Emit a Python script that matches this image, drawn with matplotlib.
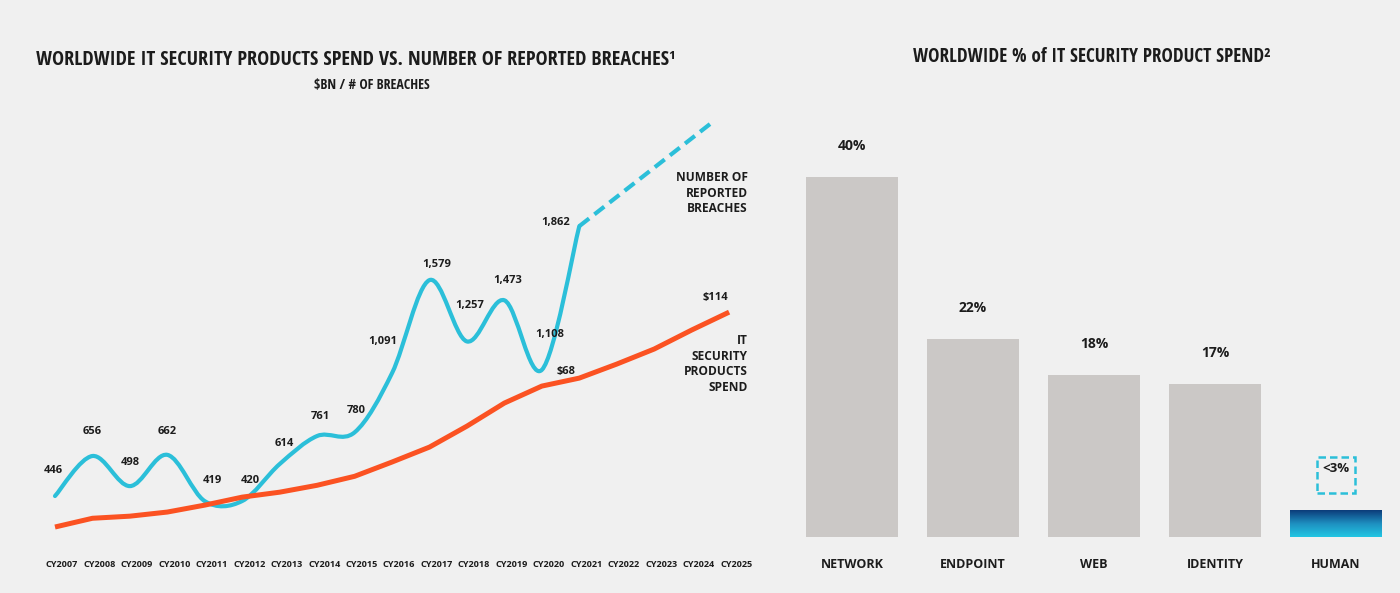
import numpy as np
import matplotlib
matplotlib.use('Agg')
import matplotlib.pyplot as plt
from matplotlib.path import Path
from matplotlib.patches import PathPatch, Rectangle
from matplotlib.colors import LinearSegmentedColormap
from matplotlib.ticker import NullLocator
from matplotlib.transforms import ScaledTranslation

# ---- data ----
years = ['CY2007', 'CY2008', 'CY2009', 'CY2010', 'CY2011', 'CY2012', 'CY2013',
         'CY2014', 'CY2015', 'CY2016', 'CY2017', 'CY2018', 'CY2019', 'CY2020',
         'CY2021', 'CY2022', 'CY2023', 'CY2024', 'CY2025']
breaches = [446, 656, 498, 662, 419, 420, 614, 761, 780, 1091, 1579, 1257, 1473, 1108, 1862]
proj_pos = [14, 17.57]           # projection (dashed) from CY2021 onwards
proj_breaches = [1862, 2410]
spend = [25.4, 27.0, 27.4, 28.2, 29.6, 31.3, 32.4, 34.0, 36.2, 40.0,
         44.4, 51.4, 60.4, 68, 71.9, 79.3, 88.1, 100.6, 114]   # $BN
spend_labelled = {13: '$68', 18: '$114'}

categories = ['NETWORK', 'ENDPOINT', 'WEB', 'IDENTITY', 'HUMAN']
share = [40, 22, 18, 17, 3]
share_labels = ['40%', '22%', '18%', '17%', '<3%']

BG = '#f0f0f0'
BLUE = '#2bbfd9'
ORANGE = '#fb5222'
GRAY = '#cbc8c6'
TXT = '#1c1c1c'
NARROW = ['Open Sans Condensed', 'Cabin Condensed', 'DejaVu Sans']
SANS = ['Open Sans', 'DejaVu Sans']

W, H = 1400, 593
fig = plt.figure(figsize=(W / 100, H / 100), dpi=100, facecolor=BG)

# ---------------- left chart ----------------
ax = fig.add_axes([30 / W, (H - 545) / H, 730 / W, 445 / H])
ax.set_facecolor(BG)
ax.set_xlim((30 - 55) / 37.45, (760 - 55) / 37.45)
ax.set_ylim(189, 2524)
for s in ax.spines.values():
    s.set_visible(False)
ax.set_yticks([])

# smooth breach curve (catmull-rom as bezier segments)
pts = np.column_stack([np.arange(len(breaches)), breaches]).astype(float)
ext = np.vstack([pts[0], pts, pts[-1]])
verts = [pts[0]]
codes = [Path.MOVETO]
for i in range(len(pts) - 1):
    p0, p1, p2, p3 = ext[i], ext[i + 1], ext[i + 2], ext[i + 3]
    verts += [p1 + (p2 - p0) / 6, p2 - (p3 - p1) / 6, p2]
    codes += [Path.CURVE4] * 3
ax.add_patch(PathPatch(Path(verts, codes), fill=False, ec=BLUE, lw=3,
                       capstyle='round', joinstyle='round', zorder=3))
ax.plot(proj_pos, proj_breaches, color=BLUE, lw=3, dashes=(3, 1.6),
        dash_capstyle='butt', zorder=3)

offs = [(-2, 26), (0, 24), (0, 24), (0, 23), (8, 21), (8, 20), (5, 21), (3, 19),
        (2, 22), (-9, 32), (7, 16), (3, 36), (3, 20), (8, 35), (-24, 4)]
for i, v in enumerate(breaches):
    ax.annotate(f'{v:,}', (i, v), xytext=offs[i], textcoords='offset pixels',
                ha='center', va='center', fontsize=8, fontweight='bold',
                family=SANS, color=TXT)

ax.set_xticks(range(len(years)))
ax.set_xticklabels(years, fontsize=6.6, fontweight='bold', family=SANS, color=TXT)
ax.tick_params(axis='x', length=0, pad=11)
for lab in ax.get_xticklabels():
    lab.set_transform(lab.get_transform() + ScaledTranslation(0.07, 0, fig.dpi_scale_trans))

ax2 = ax.twinx()
ax2.set_yscale('log')
ax2.set_ylim(22.4, 502)
ax2.plot(range(len(spend)), spend, color=ORANGE, lw=3.6, solid_capstyle='butt', zorder=2)
ax2.set_yticks([])
ax2.yaxis.set_minor_locator(NullLocator())
for s in ax2.spines.values():
    s.set_visible(False)
ax2.annotate(spend_labelled[13], (13, spend[13]), xytext=(24, 15), textcoords='offset pixels',
             ha='center', va='center', fontsize=8, fontweight='bold', family=SANS, color=TXT)
ax2.annotate(spend_labelled[18], (18, spend[18]), xytext=(-14, 15), textcoords='offset pixels',
             ha='center', va='center', fontsize=8, fontweight='bold', family=SANS, color=TXT)

fig.text(748 / W, 1 - 193 / H, 'NUMBER OF\nREPORTED\nBREACHES', ha='right', va='center',
         fontsize=8.6, fontweight='bold', family=SANS, color=TXT, linespacing=1.25)
fig.text(748 / W, 1 - 364 / H, 'IT\nSECURITY\nPRODUCTS\nSPEND', ha='right', va='center',
         fontsize=8.6, fontweight='bold', family=SANS, color=TXT, linespacing=1.25)

fig.text(36 / W, 1 - 60 / H,
         'WORLDWIDE IT SECURITY PRODUCTS SPEND VS. NUMBER OF REPORTED BREACHES\u00b9',
         ha='left', va='center', fontsize=14.6, fontweight='bold', family=NARROW, color=TXT)
fig.text(372 / W, 1 - 85 / H, '$BN / # OF BREACHES', ha='center', va='center',
         fontsize=10, fontweight='bold', family=NARROW, color=TXT)

# ---------------- right chart ----------------
ax3 = fig.add_axes([780 / W, (H - 537) / H, 615 / W, 437 / H])
ax3.set_facecolor(BG)
for s in ax3.spines.values():
    s.set_visible(False)
ax3.bar(range(4), share[:4], width=0.76, color=GRAY, zorder=2)

cmap = LinearSegmentedColormap.from_list('human', ['#0c3c7a', '#1e8fc0', '#22c6e3'])
grad = np.linspace(0, 1, 100).reshape(-1, 1)
ax3.imshow(grad, cmap=cmap, extent=(4 - 0.38, 4 + 0.38, 0, share[4]), aspect='auto',
           origin='upper', zorder=2)
ax3.set_xlim(-0.595, 4.488)
ax3.set_ylim(0, 48.6)

for i in range(4):
    ax3.annotate(share_labels[i], (i, share[i]), xytext=(0, 31), textcoords='offset pixels',
                 ha='center', va='center', fontsize=10, fontweight='bold', family=SANS, color=TXT)
ax3.annotate(share_labels[4], (4, share[4]), xytext=(0, 42), textcoords='offset pixels',
             ha='center', va='center', fontsize=9.5, fontweight='bold', family=SANS, color=TXT)
ax3.add_patch(Rectangle((4 - 0.157, share[4] + 1.9), 0.314, 4.0, fill=False, ec=BLUE,
                        lw=1.8, ls=(0, (3, 1.6)), zorder=3))

ax3.set_yticks([])
ax3.set_xticks(range(5))
ax3.set_xticklabels(categories, fontsize=9, fontweight='bold', family=SANS, color=TXT)
ax3.tick_params(axis='x', length=0, pad=15)

fig.text(1092 / W, 1 - 57 / H, 'WORLDWIDE % of IT SECURITY PRODUCT SPEND\u00b2',
         ha='center', va='center', fontsize=13.8, fontweight='bold', family=NARROW, color=TXT)

fig.savefig('out.png', dpi=100, facecolor=BG)
